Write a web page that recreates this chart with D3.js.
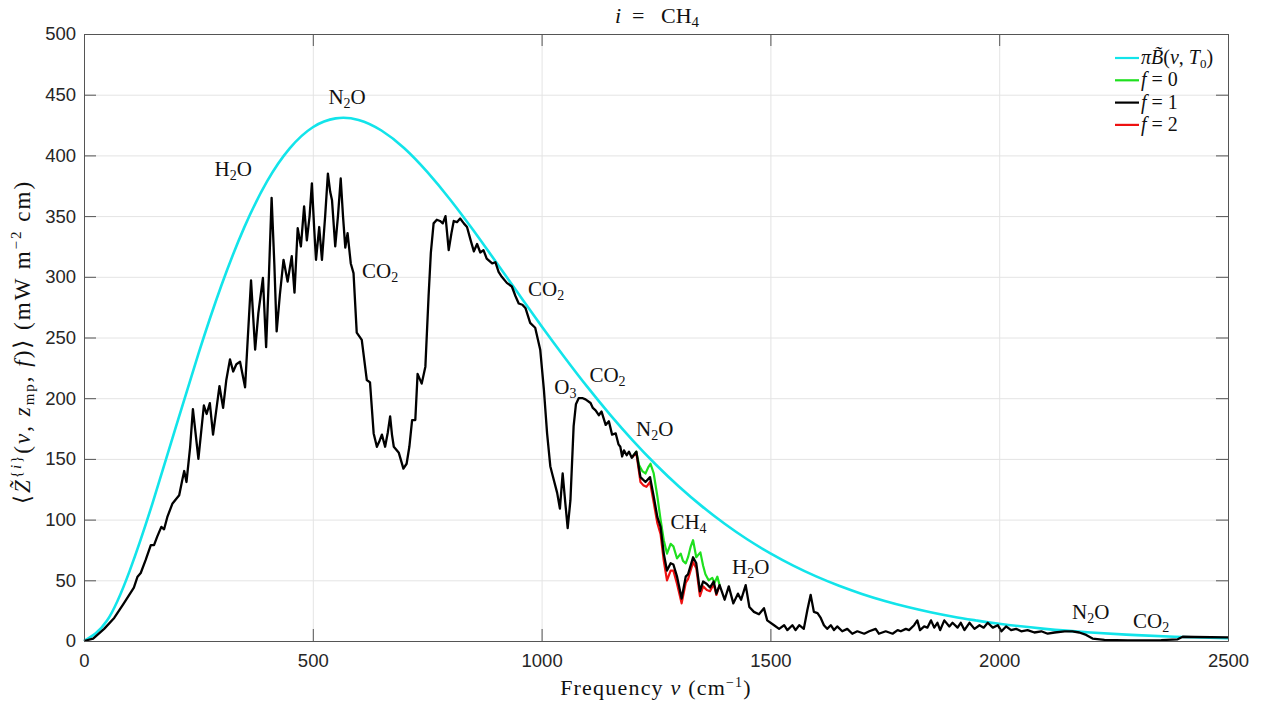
<!DOCTYPE html>
<html>
<head>
<meta charset="utf-8">
<script src="https://cdn.jsdelivr.net/npm/d3@7"></script>
<style>
  body { margin: 0; background: #fff; }
  svg { display: block; }
  .tick text { font-family: "Liberation Sans", Arial, sans-serif; font-size: 18.5px; fill: #262626; }
  .serif { font-family: "Liberation Serif", "DejaVu Serif", serif; fill: #111; }
</style>
</head>
<body>
<svg id="chart" width="1266" height="705"></svg>
<script>
// x ticks and y ticks
const xTicks = [0, 500, 1000, 1500, 2000, 2500];
const yTicks = [0, 50, 100, 150, 200, 250, 300, 350, 400, 450, 500];

// pi * Planck curve  [nu, value]
const planck = [[0,0],[50,16.6],[100,58.0],[150,113.8],[200,175.4],[250,236.5],[300,292.6],[350,340.5],[400,378.6],
  [450,406.0],[500,423.2],[550,430.5],[600,429.2],[650,420.5],[700,405.9],[750,386.4],[800,363.7],[850,338.7],
  [900,312.4],[950,285.8],[1000,259.3],[1050,233.8],[1100,209.3],[1150,186.3],[1200,164.9],[1250,145.2],
  [1300,127.3],[1350,111.1],[1400,96.6],[1450,83.6],[1500,72.2],[1550,62.1],[1600,53.2],[1650,45.5],
  [1700,38.8],[1750,33.0],[1800,28.0],[1850,23.7],[1900,20.0],[1950,16.9],[2000,14.2],[2100,10.0],
  [2200,7.0],[2300,4.8],[2400,3.3],[2500,2.3]];

// f = 1 (black), full range
const f1 = [[0,0],[20,2],[44,10],[66,19],[87,31],[109,44],[117,53],[124,56],[135,67],[146,79],[153,79],[160,86],
  [169,94],[175,92],[182,102],[193,113],[208,120],[215,133],[219,140],[224,131],[232,160],[238,191],[250,150],
  [262,194],[268,187],[275,196],[282,170],[289,190],[296,210],[304,192],[311,215],[319,232],[326,222],[333,228],
  [341,230],[352,209],[358,250],[365,297],[374,240],[381,270],[391,299],[398,242],[404,300],[410,365],[416,310],
  [421,255],[428,285],[436,314],[445,296],[454,317],[460,287],[467,340],[474,325],[481,358],[487,330],[493,350],
  [498,377],[503,340],[507,314],[514,341],[520,314],[527,350],[533,385],[538,370],[542,363],[549,325],[555,350],
  [561,381],[566,350],[571,324],[576,336],[583,311],[589,303],[596,254],[607,248],[618,215],[625,213],[633,171],
  [640,160],[646,165],[651,170],[658,160],[664,172],[669,185],[673,170],[677,160],[688,155],[698,142],[705,146],
  [711,160],[717,182],[724,182],[729,220],[738,212],[746,226],[753,284],[758,320],[764,344],[771,347],[778,346],
  [784,344],[790,350],[797,322],[803,336],[808,346],[815,345],[822,348],[830,344],[837,341],[845,330],[852,321],
  [859,327],[866,320],[873,322],[880,315],[892,311],[899,312],[906,304],[913,300],[924,295],[935,292],[943,284],
  [950,278],[958,277],[965,274],[975,262],[986,258],[997,240],[1005,207],[1012,171],[1019,144],[1023,138],
  [1034,122],[1040,109],[1046,138],[1052,113],[1057,93],[1063,116],[1070,177],[1075,195],[1081,200],[1090,200],
  [1096,199],[1107,196],[1112,192],[1118,190],[1125,186],[1131,189],[1140,178],[1147,181],[1154,170],[1162,171],
  [1168,162],[1172,160],[1176,152],[1180,157],[1186,153],[1191,156],[1197,151],[1207,156],[1216,135],[1227,131],
  [1237,135],[1245,119],[1253,102],[1260,94],[1267,72],[1274,58],[1282,64],[1288,63],[1296,53],[1306,35],
  [1315,53],[1320,55],[1331,69],[1338,64],[1346,41],[1353,49],[1361,47],[1368,44],[1376,49],[1382,39],[1389,46],
  [1400,34],[1409,45],[1419,31],[1429,39],[1436,34],[1446,46],[1454,28],[1464,24],[1475,22],[1486,27],[1493,17],
  [1508,13],[1519,10],[1530,13],[1537,9],[1548,13],[1555,9],[1563,13],[1573,10],[1581,26],[1588,38],[1595,24],
  [1603,23],[1610,19],[1617,13],[1624,10],[1632,13],[1639,9],[1646,12],[1657,8],[1668,10],[1679,6],[1690,8],
  [1705,6],[1716,8],[1730,10],[1737,6],[1752,8],[1767,6],[1778,9],[1785,8],[1796,10],[1803,9],[1814,13],[1821,17],
  [1827,9],[1836,12],[1843,11],[1851,17],[1858,11],[1865,15],[1871,9],[1880,17],[1891,12],[1898,15],[1909,11],
  [1916,15],[1924,9],[1935,15],[1946,10],[1957,13],[1966,11],[1975,15],[1986,11],[1997,13],[2005,8],[2015,12],
  [2026,9],[2037,10],[2048,8],[2062,9],[2077,7],[2092,8],[2106,6],[2121,7],[2143,8],[2160,8],[2175,7],[2190,5],
  [2204,2],[2230,1],[2281,0.5],[2354,0.8],[2390,1.4],[2401,3.5],[2426,3.3],[2500,3]];

// f = 0 (green), where it differs from f = 1
const f0 = [[1197,151],[1207,156],[1213,145],[1220,140],[1227,138],[1233,143],[1238,146],[1245,138],[1253,119],
  [1260,100],[1267,83],[1274,72],[1282,80],[1288,78],[1296,68],[1304,72],[1309,66],[1315,64],[1320,69],[1326,78],
  [1331,83],[1338,69],[1347,73],[1353,62],[1358,55],[1365,50],[1373,52],[1378,48],[1384,53],[1389,46]];

// f = 2 (red), where it differs from f = 1
const f2 = [[1197,151],[1207,155],[1216,131],[1223,128],[1229,127],[1237,131],[1245,114],[1253,97],[1260,88],
  [1267,66],[1274,50],[1282,58],[1288,58],[1296,47],[1306,31],[1315,48],[1320,51],[1331,65],[1338,60],[1346,37],
  [1353,45],[1361,42],[1368,41],[1376,47],[1382,38],[1389,46]];

// gas labels: [nu, value, name, subscript]
const gasLabels = [[326,388,"H","2O"],[575,447,"N","2O"],[647,304,"CO","2"],[1010,289,"CO","2"],
  [1052,208,"O","3"],[1144,218,"CO","2"],[1247,174,"N","2O"],[1321,97,"CH","4"],[1457,60,"H","2O"],
  [2200,23,"N","2O"],[2332,16,"CO","2"]];

const svg = d3.select("#chart");
const x = d3.scaleLinear().domain([0, 2500]).range([84, 1228]);
const y = d3.scaleLinear().domain([0, 500]).range([641, 34]);
const W = 1228 - 84, H = 641 - 34;

// grid
svg.append("g").attr("transform", "translate(0,641)")
   .call(d3.axisBottom(x).tickValues(xTicks).tickSize(-H).tickFormat(""))
   .call(g => { g.select(".domain").remove(); g.selectAll("line").attr("stroke", "#e4e4e4"); });
svg.append("g").attr("transform", "translate(84,0)")
   .call(d3.axisLeft(y).tickValues(yTicks).tickSize(-W).tickFormat(""))
   .call(g => { g.select(".domain").remove(); g.selectAll("line").attr("stroke", "#e4e4e4"); });

// curves
const smooth = d3.line().x(d => x(d[0])).y(d => y(d[1])).curve(d3.curveNatural);
const line = d3.line().x(d => x(d[0])).y(d => y(d[1]));
svg.append("path").datum(planck).attr("fill", "none").attr("stroke", "#12e4ea").attr("stroke-width", 2.6)
   .attr("d", smooth);
svg.append("path").datum(f0).attr("fill", "none").attr("stroke", "#1ee01e").attr("stroke-width", 2.2)
   .attr("stroke-linejoin", "round").attr("d", line);
svg.append("path").datum(f2).attr("fill", "none").attr("stroke", "#ee1111").attr("stroke-width", 2.2)
   .attr("stroke-linejoin", "round").attr("d", line);
svg.append("path").datum(f1).attr("fill", "none").attr("stroke", "#000").attr("stroke-width", 2.3)
   .attr("stroke-linejoin", "round").attr("d", line);

// axes box and ticks
const tl = 12;
const styleAxis = g => { g.select(".domain").attr("stroke", "#555"); g.selectAll(".tick line").attr("stroke", "#555"); };
svg.append("g").attr("transform", "translate(0,641)")
   .call(d3.axisBottom(x).tickValues(xTicks).tickFormat(d3.format("d")).tickSizeInner(-tl).tickSizeOuter(0).tickPadding(8))
   .call(styleAxis)
   .call(g => g.selectAll(".tick text").attr("dy", "0.95em"));
svg.append("g").attr("transform", "translate(84,0)")
   .call(d3.axisLeft(y).tickValues(yTicks).tickFormat(d3.format("d")).tickSizeInner(-tl).tickSizeOuter(0).tickPadding(8))
   .call(styleAxis);
svg.append("g").attr("transform", "translate(0,34)")
   .call(d3.axisTop(x).tickValues(xTicks).tickSizeInner(-tl).tickSizeOuter(0).tickFormat("")).call(styleAxis);
svg.append("g").attr("transform", "translate(1228,0)")
   .call(d3.axisRight(y).tickValues(yTicks).tickSizeInner(-tl).tickSizeOuter(0).tickFormat("")).call(styleAxis);

// gas labels
gasLabels.forEach(d => {
  const t = svg.append("text").attr("class", "serif").attr("font-size", 21)
    .attr("x", x(d[0])).attr("y", y(d[1]) + 6).attr("text-anchor", "middle");
  t.append("tspan").text(d[2]);
  const sub = d[3];
  t.append("tspan").attr("font-size", 14).attr("dy", 4).text(sub[0]);
  if (sub.length > 1) t.append("tspan").attr("dy", -4).text(sub.slice(1));
});

// title
const title = svg.append("text").attr("class", "serif").attr("font-size", 22)
  .attr("x", 657).attr("y", 23).attr("text-anchor", "middle").attr("xml:space", "preserve");
title.append("tspan").attr("font-style", "italic").text("i");
title.append("tspan").text("  =   CH");
title.append("tspan").attr("font-size", 15).attr("dy", 4).text("4");

// x label
const xl = svg.append("text").attr("class", "serif").attr("font-size", 22).attr("letter-spacing", 1.2)
  .attr("x", 656).attr("y", 695).attr("text-anchor", "middle");
xl.append("tspan").text("Frequency ");
xl.append("tspan").attr("font-style", "italic").text("ν");
xl.append("tspan").text(" (cm");
xl.append("tspan").attr("font-size", 14).attr("dy", -8).text("−1");
xl.append("tspan").attr("dy", 8).text(")");

// y label
const yl = svg.append("text").attr("class", "serif").attr("font-size", 23).attr("letter-spacing", 2)
  .attr("transform", "translate(30,342) rotate(-90)").attr("text-anchor", "middle");
yl.append("tspan").text("⟨");
yl.append("tspan").attr("font-style", "italic").text("Z\u0303");
yl.append("tspan").attr("font-size", 15).attr("dy", -9).text("{");
yl.append("tspan").attr("font-size", 15).attr("font-style", "italic").text("i");
yl.append("tspan").attr("font-size", 15).text("}");
yl.append("tspan").attr("dy", 9).text("(");
yl.append("tspan").attr("font-style", "italic").text("ν");
yl.append("tspan").text(", ");
yl.append("tspan").attr("font-style", "italic").text("z");
yl.append("tspan").attr("font-size", 15).attr("dy", 4).text("mp");
yl.append("tspan").attr("dy", -4).text(", ");
yl.append("tspan").attr("font-style", "italic").text("f");
yl.append("tspan").text(")⟩ (mW m");
yl.append("tspan").attr("font-size", 15).attr("dy", -9).text("−2");
yl.append("tspan").attr("dy", 9).text(" cm)");

// legend
const legendNames = ["planck", "f = 0", "f = 1", "f = 2"];
const legendColors = ["#12e4ea", "#1ee01e", "#000", "#ee1111"];
legendNames.forEach((name, i) => {
  const ly = 58 + i * 22.3;
  svg.append("line").attr("x1", 1115).attr("x2", 1139).attr("y1", ly).attr("y2", ly)
    .attr("stroke", legendColors[i]).attr("stroke-width", 2.2);
  const t = svg.append("text").attr("class", "serif").attr("font-size", 20).attr("x", 1141).attr("y", ly + 6);
  if (i === 0) {
    t.append("tspan").attr("font-style", "italic").text("π");
    t.append("tspan").attr("font-style", "italic").text("B\u0303");
    t.append("tspan").text("(");
    t.append("tspan").attr("font-style", "italic").text("ν");
    t.append("tspan").text(", ");
    t.append("tspan").attr("font-style", "italic").text("T");
    t.append("tspan").attr("font-size", 13).attr("dy", 4).text("0");
    t.append("tspan").attr("dy", -4).text(")");
  } else {
    t.append("tspan").attr("font-style", "italic").text("f");
    t.append("tspan").text(" = " + name.slice(-1));
  }
});
</script>
</body>
</html>
